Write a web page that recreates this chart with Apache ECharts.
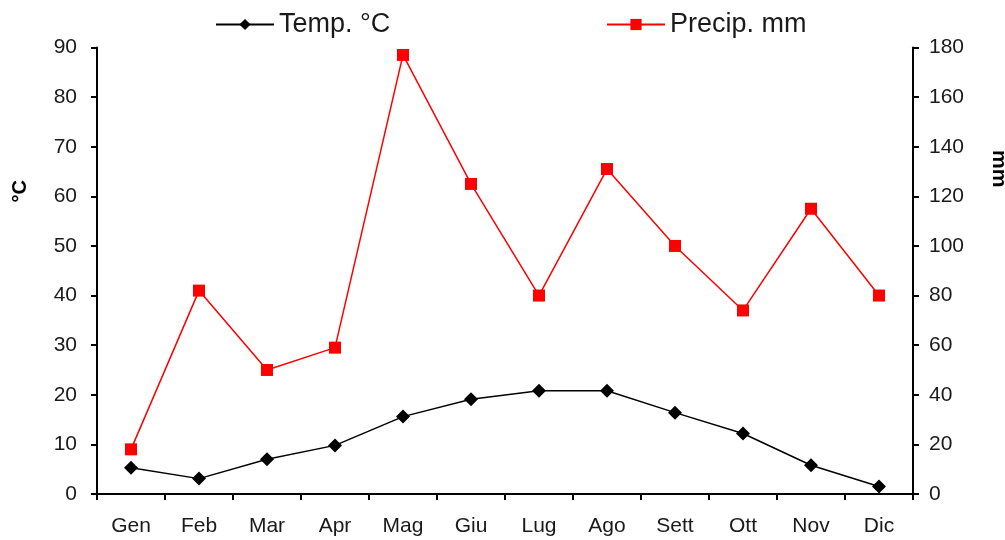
<!DOCTYPE html>
<html><head><meta charset="utf-8">
<script src="https://cdn.jsdelivr.net/npm/echarts@6/dist/echarts.min.js"></script>
<style>html,body{margin:0;padding:0;background:#fff}#c{width:1005px;height:540px}</style>
</head><body><div id="c"></div>
<script>
const months = ['Gen','Feb','Mar','Apr','Mag','Giu','Lug','Ago','Sett','Ott','Nov','Dic'];
const temp = [5.3, 3.1, 7.0, 9.8, 15.6, 19.1, 20.8, 20.8, 16.4, 12.2, 5.8, 1.5];
const precip = [18, 82, 50, 59, 177, 125, 80, 131, 100, 74, 115, 80];
const tempTicks = {min: 0, max: 90, interval: 10};
const precipTicks = {min: 0, max: 180, interval: 20};

const FONT = 'Liberation Sans, Arial, sans-serif';
const chart = echarts.init(document.getElementById('c'));
const axisCommon = {
  axisLine: {show: true, lineStyle: {color: '#000', width: 2}},
  axisTick: {show: true, length: 6, lineStyle: {color: '#000', width: 2}},
  splitLine: {show: false},
  axisLabel: {color: '#1a1a1a', fontSize: 21, fontFamily: FONT}
};
chart.setOption({
  animation: false,
  backgroundColor: '#fff',
  grid: {left: 97, right: 92, top: 47.5, bottom: 46},
  legend: [
    {data: ['Temp. °C'], left: 210, top: 6, itemWidth: 58, itemHeight: 14, itemGap: 0,
     textStyle: {fontSize: 27, fontFamily: FONT, color: '#1a1a1a'}},
    {data: ['Precip. mm'], left: 601, top: 6, itemWidth: 58, itemHeight: 14, itemGap: 0,
     textStyle: {fontSize: 27, fontFamily: FONT, color: '#1a1a1a'}}
  ],
  xAxis: {
    type: 'category', data: months, boundaryGap: true,
    axisLine: {show: true, lineStyle: {color: '#000', width: 2}},
    axisTick: {show: true, length: 6, alignWithLabel: false, lineStyle: {color: '#000', width: 2}},
    axisLabel: {color: '#1a1a1a', fontSize: 21, fontFamily: FONT, margin: 22, interval: 0}
  },
  yAxis: [
    Object.assign({type: 'value', position: 'left'}, tempTicks, axisCommon,
      {axisLabel: Object.assign({}, axisCommon.axisLabel, {margin: 20})}),
    Object.assign({type: 'value', position: 'right'}, precipTicks, axisCommon,
      {axisLabel: Object.assign({}, axisCommon.axisLabel, {margin: 16})})
  ],
  graphic: [
    {type: 'text', left: 10, top: 180, rotation: Math.PI / 2,
     style: {text: '°C', fontSize: 20, fontWeight: 'bold', fontFamily: FONT, fill: '#000'}},
    {type: 'text', left: 988, top: 150, rotation: -Math.PI / 2,
     style: {text: 'mm', fontSize: 21, fontWeight: 'bold', fontFamily: FONT, fill: '#000'}}
  ],
  series: [
    {name: 'Temp. °C', type: 'line', data: temp, yAxisIndex: 0,
     symbol: 'diamond', symbolSize: 14,
     lineStyle: {color: '#000', width: 1.5}, itemStyle: {color: '#000'}},
    {name: 'Precip. mm', type: 'line', data: precip, yAxisIndex: 1,
     symbol: 'rect', symbolSize: 12,
     lineStyle: {color: '#ff0000', width: 1.5}, itemStyle: {color: '#ff0000'}}
  ]
});
</script></body></html>
